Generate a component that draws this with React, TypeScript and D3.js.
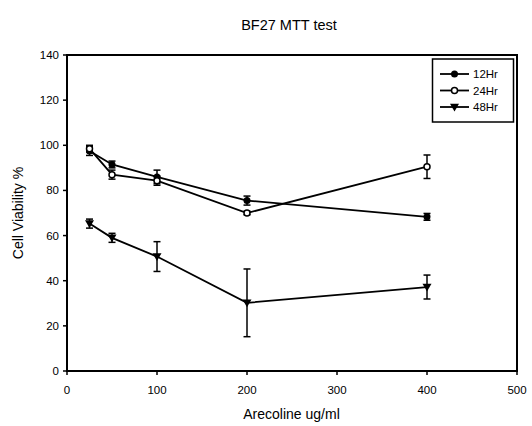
import React from "react";
import * as d3 from "d3";

const doses = [25, 50, 100, 200, 400];
const hr12 = [97.5, 91.5, 86, 75.5, 68.3];
const hr12Err = [2, 1.5, 3, 2, 1.5];
const hr24 = [98.5, 87, 84.3, 70, 90.5];
const hr24Err = [1.5, 2, 2, 0.8, 5.2];
const hr48 = [65.3, 59, 50.7, 30.2, 37.2];
const hr48Err = [2, 2, 6.6, 15, 5.3];
const xTicks = [0, 100, 200, 300, 400, 500];
const yTicks = [0, 20, 40, 60, 80, 100, 120, 140];
const seriesNames = ["12Hr", "24Hr", "48Hr"];

const FONT = "'Liberation Sans', Arial, sans-serif";

export default function App() {
  const W = 532, H = 426;
  const L = 67, T = 55, R = 517, B = 371;
  const x = d3.scaleLinear().domain([0, 500]).range([L, R]);
  const y = d3.scaleLinear().domain([0, 140]).range([B, T]);
  const line = d3.line<number>().x((_, i) => x(doses[i])).y((d) => y(d));

  const series = [
    { vals: hr12, err: hr12Err, marker: "filled" },
    { vals: hr24, err: hr24Err, marker: "open" },
    { vals: hr48, err: hr48Err, marker: "tri" },
  ];

  const marker = (type: string, cx: number, cy: number, key: any) => {
    if (type === "filled") return <circle key={key} cx={cx} cy={cy} r={3.5} fill="#000" />;
    if (type === "open") return <circle key={key} cx={cx} cy={cy} r={3} fill="#fff" stroke="#000" strokeWidth={1.5} />;
    const s = 4.5;
    return <path key={key} d={`M${cx - s},${cy - s * 0.75}L${cx + s},${cy - s * 0.75}L${cx},${cy + s * 1.0}Z`} fill="#000" />;
  };

  return (
    <svg width={W} height={H} style={{ position: "absolute", left: 0, top: 0, background: "#fff" }} fontFamily={FONT}>
      <rect x={0} y={0} width={W} height={H} fill="#fff" />
      <text x={289} y={30} fontSize={14.5} textAnchor="middle">BF27 MTT test</text>
      {/* frame */}
      <rect x={L} y={T} width={R - L} height={B - T} fill="none" stroke="#000" strokeWidth={2} />
      {/* y ticks */}
      {yTicks.map((t) => (
        <g key={"y" + t}>
          <line x1={L - 4} x2={L} y1={y(t)} y2={y(t)} stroke="#000" strokeWidth={1.5} />
          <text x={59} y={y(t) + 4} fontSize={11.5} textAnchor="end">{t}</text>
        </g>
      ))}
      {xTicks.map((t) => (
        <g key={"x" + t}>
          <line x1={x(t)} x2={x(t)} y1={B} y2={B + 4} stroke="#000" strokeWidth={1.5} />
          <text x={x(t)} y={394} fontSize={11.5} textAnchor="middle">{t}</text>
        </g>
      ))}
      <text x={291.5} y={419} fontSize={14} textAnchor="middle">Arecoline ug/ml</text>
      <text transform={`translate(23,213) rotate(-90)`} fontSize={14} textAnchor="middle">Cell Viability %</text>
      {/* series */}
      {series.map((s, si) => (
        <g key={"s" + si}>
          <path d={line(s.vals) || ""} fill="none" stroke="#000" strokeWidth={1.8} />
          {s.vals.map((v, i) => {
            const cx = x(doses[i]);
            const y1 = y(v + s.err[i]), y2 = y(v - s.err[i]);
            return (
              <g key={i}>
                <line x1={cx} x2={cx} y1={y1} y2={y2} stroke="#000" strokeWidth={1.5} />
                <line x1={cx - 3.5} x2={cx + 3.5} y1={y1} y2={y1} stroke="#000" strokeWidth={1.5} />
                <line x1={cx - 3.5} x2={cx + 3.5} y1={y2} y2={y2} stroke="#000" strokeWidth={1.5} />
              </g>
            );
          })}
          {s.vals.map((v, i) => marker(s.marker, x(doses[i]), y(v), "m" + i))}
        </g>
      ))}
      {/* legend */}
      <rect x={432.5} y={59} width={81} height={63} fill="#fff" stroke="#000" strokeWidth={1.5} />
      {series.map((s, i) => {
        const ly = 74 + i * 16.5;
        return (
          <g key={"l" + i}>
            <line x1={440} x2={469} y1={ly} y2={ly} stroke="#000" strokeWidth={1.8} />
            {marker(s.marker, 454.5, ly, "lm" + i)}
            <text x={473} y={ly + 4} fontSize={11.5}>{seriesNames[i]}</text>
          </g>
        );
      })}
    </svg>
  );
}
